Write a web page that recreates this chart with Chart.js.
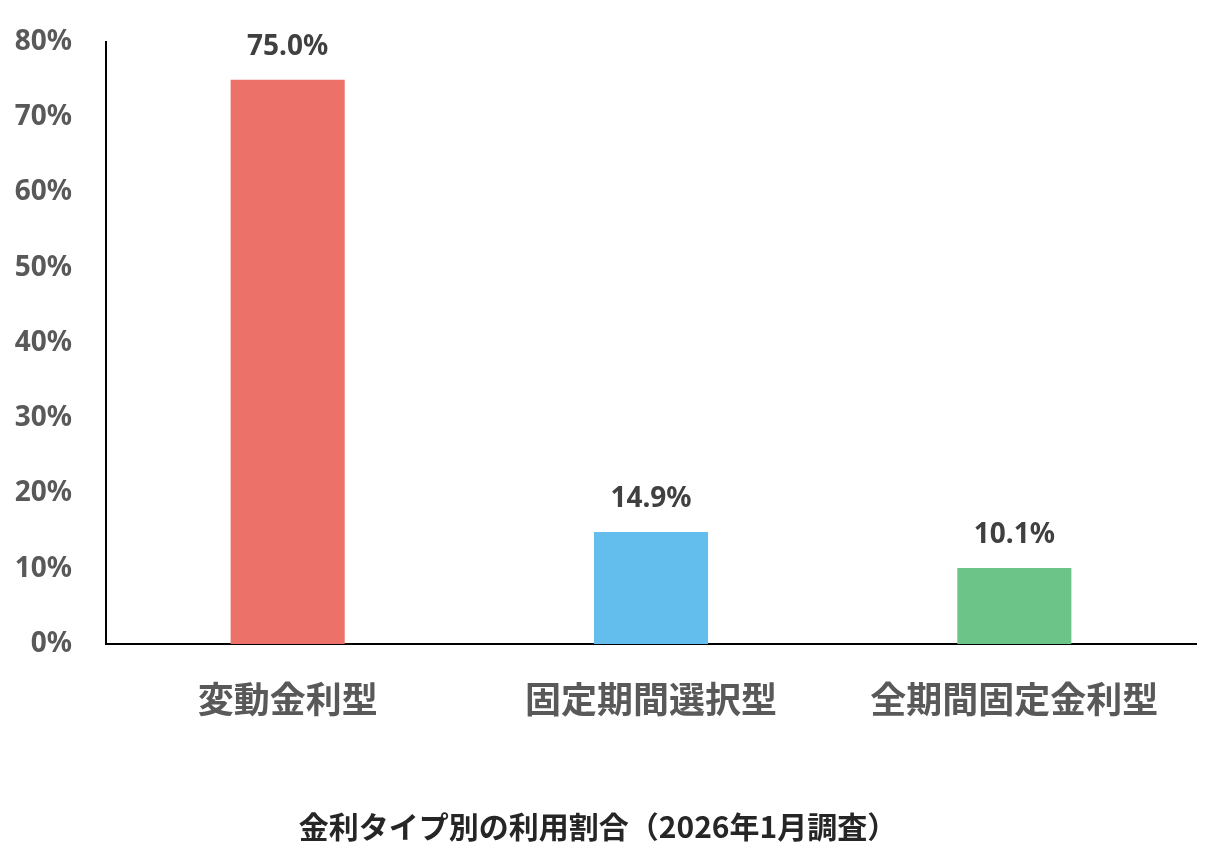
<!DOCTYPE html>
<html>
<head>
<meta charset="utf-8">
<script src="https://cdn.jsdelivr.net/npm/chart.js@4"></script>
<style>
  html, body { margin: 0; padding: 0; background: #fff; }
  #wrap { width: 1205px; height: 855px; }
</style>
</head>
<body>
<div id="wrap"><canvas id="chart" width="1205" height="855"></canvas></div>
<script>
// 金利タイプ別の利用割合
const categories = ["変動金利型", "固定期間選択型", "全期間固定金利型"];
const shares = [75.0, 14.9, 10.1];
const barColors = ["#EC7169", "#63BEEE", "#6DC489"];
const yTicks = [0, 10, 20, 30, 40, 50, 60, 70, 80];
const titleText = "金利タイプ別の利用割合（2026年1月調査）";

const jpFont = "'Noto Sans CJK JP', 'Noto Sans', sans-serif";
const numFont = "'Noto Sans', 'Liberation Sans', sans-serif";

// value labels above bars
const valueLabels = {
  id: "valueLabels",
  afterDatasetsDraw(chart) {
    const ctx = chart.ctx;
    const meta = chart.getDatasetMeta(0);
    ctx.save();
    ctx.font = "bold 28px " + numFont;
    ctx.fillStyle = "#404040";
    ctx.textAlign = "center";
    ctx.textBaseline = "middle";
    meta.data.forEach((bar, i) => {
      ctx.fillText(shares[i].toFixed(1) + "%", bar.x, bar.y - 33);
    });
    ctx.restore();
  }
};

new Chart(document.getElementById("chart"), {
  type: "bar",
  data: {
    labels: categories,
    datasets: [{
      data: shares,
      backgroundColor: barColors,
      borderWidth: 0,
      barPercentage: 0.314,
      categoryPercentage: 1
    }]
  },
  options: {
    responsive: false,
    animation: false,
    devicePixelRatio: 1,
    layout: { padding: { top: 42, right: 9, left: 0, bottom: 0 } },
    plugins: {
      legend: { display: false },
      tooltip: { enabled: false },
      title: {
        display: true,
        text: titleText,
        position: "bottom",
        color: "#262626",
        font: { family: jpFont, size: 30, weight: "bold", lineHeight: 1.2 },
        padding: { top: 0, bottom: 10 }
      }
    },
    scales: {
      x: {
        grid: { display: false, drawTicks: false },
        border: { display: true, color: "#000", width: 2 },
        ticks: {
          color: "#595959",
          padding: 34,
          font: { family: jpFont, size: 36, weight: "bold", lineHeight: 1.2 }
        },
        afterFit(scale) { scale.height = 165; }
      },
      y: {
        min: 0,
        max: 80,
        grid: { display: false, drawTicks: false },
        border: { display: true, color: "#000", width: 2 },
        afterBuildTicks(scale) {
          scale.ticks = yTicks.map(v => ({ value: v }));
        },
        ticks: {
          color: "#595959",
          padding: 34,
          font: { family: numFont, size: 28, weight: "bold" },
          callback: v => v + "%"
        },
        afterFit(scale) {
          scale.width = 106;
          scale.paddingTop = 0;
          scale.paddingBottom = 0;
        }
      }
    }
  },
  plugins: [valueLabels]
});
</script>
</body>
</html>
